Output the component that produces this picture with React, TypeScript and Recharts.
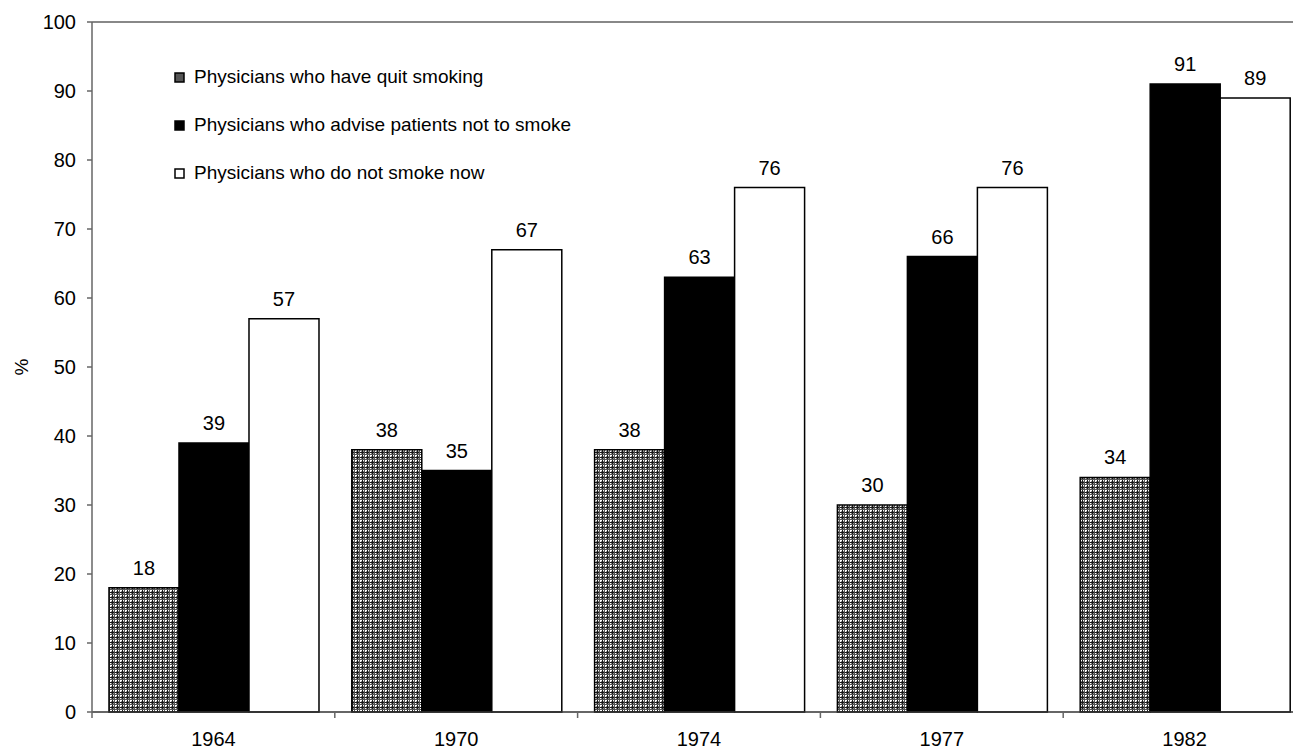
import React from "react";
import { BarChart, Bar, XAxis, YAxis, LabelList, ReferenceLine } from "recharts";

const years = ["1964", "1970", "1974", "1977", "1982"];
const quitSmoking = [18, 38, 38, 30, 34];
const adviseNotToSmoke = [39, 35, 63, 66, 91];
const doNotSmokeNow = [57, 67, 76, 76, 89];
const yTicks = [0, 10, 20, 30, 40, 50, 60, 70, 80, 90, 100];

const data = years.map((y, i) => ({
  year: y,
  quit: quitSmoking[i],
  advise: adviseNotToSmoke[i],
  notSmoke: doNotSmokeNow[i],
}));

const CHART_W = 1320;
const CHART_H = 749;
const MARGIN = { top: 22, right: 14, left: 0, bottom: 0 };
const YAXIS_W = 92;
const X_TICK_SIZE = 6;
const X_TICK_MARGIN = 2;
const FONT = "'Liberation Sans', Arial, sans-serif";
const AXIS_COLOR = "#666";

const plotW = CHART_W - MARGIN.right - MARGIN.left - YAXIS_W;
const catW = plotW / years.length;

const XTick = (props: any) => {
  const { x, y, payload, index } = props;
  const axisY = y - X_TICK_SIZE - X_TICK_MARGIN;
  return (
    <g>
      <line x1={x - catW / 2} x2={x - catW / 2} y1={axisY} y2={axisY + 6} stroke={AXIS_COLOR} strokeWidth={1.5} />
      {index === years.length - 1 && (
        <line x1={x + catW / 2} x2={x + catW / 2} y1={axisY} y2={axisY + 6} stroke={AXIS_COLOR} strokeWidth={1.5} />
      )}
      <text x={x} y={axisY + 34} textAnchor="middle" fontSize={20} fill="#000" fontFamily={FONT}>
        {payload.value}
      </text>
    </g>
  );
};

const legendItems = [
  { key: "quit", label: "Physicians who have quit smoking", fill: "#555" },
  { key: "advise", label: "Physicians who advise patients not to smoke", fill: "#000" },
  { key: "notSmoke", label: "Physicians who do not smoke now", fill: "#fff" },
];

const LegendBox = () => (
  <div
    style={{
      position: "absolute",
      left: 174,
      top: 53,
      fontFamily: FONT,
      fontSize: 19,
      color: "#000",
    }}
  >
    {legendItems.map((it) => (
      <div key={it.key} style={{ height: 48, display: "flex", alignItems: "center", whiteSpace: "nowrap" }}>
        <svg width={11} height={11} style={{ marginRight: 9 }}>
          <rect x={1} y={1} width={9} height={9} fill={it.fill} stroke="#000" strokeWidth={1.5} />
        </svg>
        <span>{it.label}</span>
      </div>
    ))}
  </div>
);

export default function App() {
  return (
    <div style={{ position: "fixed", left: 0, top: 0, width: 1293, height: 749, overflow: "hidden", background: "#fff" }}>
      <BarChart
        width={CHART_W}
        height={CHART_H}
        data={data}
        margin={MARGIN}
        barCategoryGap="7%"
        barGap={0}
      >
        <defs>
          <pattern id="hatch" width={5} height={5} patternUnits="userSpaceOnUse">
            <rect x={0} y={0} width={5} height={5} fill="#8a8a8a" />
            <rect x={0} y={0} width={1} height={5} fill="#fff" />
            <rect x={0} y={0} width={5} height={1} fill="#fff" />
            <rect x={2} y={0} width={1} height={5} fill="#1a1a1a" />
            <rect x={0} y={2} width={5} height={1} fill="#1a1a1a" />
            <rect x={4} y={0} width={1} height={5} fill="#555" />
            <rect x={0} y={4} width={5} height={1} fill="#555" />
          </pattern>
        </defs>
        <ReferenceLine y={100} stroke="#888" strokeWidth={2} />
        <XAxis
          dataKey="year"
          height={37}
          axisLine={{ stroke: "#333", strokeWidth: 1.5 }}
          tickLine={false}
          tickSize={X_TICK_SIZE}
          tickMargin={X_TICK_MARGIN}
          tick={<XTick />}
          interval={0}
        />
        <YAxis
          width={YAXIS_W}
          domain={[0, 100]}
          ticks={yTicks}
          interval={0}
          axisLine={{ stroke: AXIS_COLOR, strokeWidth: 1.5 }}
          tickLine={{ stroke: AXIS_COLOR, strokeWidth: 1.5 }}
          tickSize={5}
          tickMargin={11}
          tick={{ fontSize: 20, fill: "#000", fontFamily: FONT }}
          label={{
            content: ({ viewBox }: any) => {
              const cx = viewBox.x + 21;
              const cy = viewBox.y + viewBox.height / 2;
              return (
                <text
                  x={cx}
                  y={cy}
                  textAnchor="middle"
                  dominantBaseline="central"
                  transform={`rotate(-90 ${cx} ${cy})`}
                  fontSize={19}
                  fontFamily={FONT}
                  fill="#000"
                >
                  %
                </text>
              );
            },
          }}
        />
        <Bar dataKey="quit" name="Physicians who have quit smoking" fill="url(#hatch)" stroke="#000" strokeWidth={1.5} isAnimationActive={false}>
          <LabelList dataKey="quit" position="top" offset={13} fontSize={20} fill="#000" fontFamily={FONT} />
        </Bar>
        <Bar dataKey="advise" name="Physicians who advise patients not to smoke" fill="#000" stroke="#000" strokeWidth={1.5} isAnimationActive={false}>
          <LabelList dataKey="advise" position="top" offset={13} fontSize={20} fill="#000" fontFamily={FONT} />
        </Bar>
        <Bar dataKey="notSmoke" name="Physicians who do not smoke now" fill="#fff" stroke="#000" strokeWidth={1.5} isAnimationActive={false}>
          <LabelList dataKey="notSmoke" position="top" offset={13} fontSize={20} fill="#000" fontFamily={FONT} />
        </Bar>
      </BarChart>
      <LegendBox />
    </div>
  );
}
